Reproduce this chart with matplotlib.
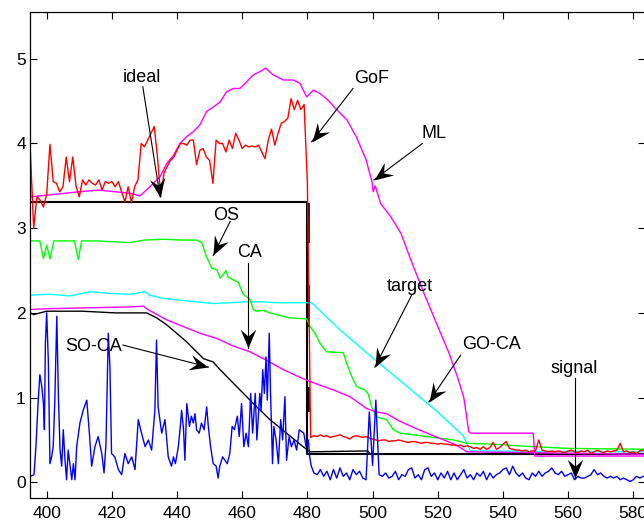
import matplotlib
matplotlib.use('Agg')
import matplotlib.pyplot as plt
from matplotlib.path import Path
import numpy as np

plt.rcParams['font.family'] = ['Liberation Sans', 'DejaVu Sans']

# ---------------- data ----------------
# GoF detector output (red), one sample per unit starting at 395
gof_pre = [3.90, 3.00, 3.37, 3.33, 3.25, 3.40, 3.99, 3.55, 3.53, 3.43,
           3.49, 3.84, 3.55, 3.84, 3.50, 3.37, 3.57, 3.51, 3.57, 3.53,
           3.51, 3.57, 3.45, 3.55, 3.53, 3.55, 3.49, 3.55, 3.43, 3.31,
           3.49, 3.30, 3.49, 3.57, 4.00, 3.96, 4.04, 4.12, 4.20, 3.84,
           3.37, 3.65, 3.73, 3.80, 3.84, 3.92, 4.00, 4.00, 3.98, 4.04,
           4.04, 3.75, 3.92, 3.94, 3.84, 3.80, 3.53, 4.04, 4.00, 4.00,
           3.90, 4.04, 3.94, 4.12, 4.04, 3.94, 3.98, 3.96, 3.97, 3.96,
           3.98, 3.90, 3.82, 4.04, 4.17, 3.98, 4.12, 4.24, 4.26, 4.30,
           4.53, 4.40, 4.51, 4.40, 4.46, 3.53]
gof_post = [0.53, 0.55, 0.54, 0.56, 0.54, 0.55, 0.53, 0.54, 0.55, 0.56,
            0.54, 0.53, 0.51, 0.54, 0.55, 0.54, 0.53, 0.54, 0.52, 0.51,
            0.50, 0.49, 0.50, 0.50, 0.48, 0.49, 0.49, 0.50, 0.49, 0.48,
            0.47, 0.48, 0.48, 0.47, 0.46, 0.47, 0.47, 0.46, 0.46, 0.45,
            0.46, 0.45, 0.45, 0.44, 0.44, 0.43, 0.44, 0.42, 0.43, 0.42,
            0.40, 0.41, 0.39, 0.42, 0.39, 0.41, 0.47, 0.39, 0.41, 0.45,
            0.48, 0.40, 0.39, 0.38, 0.38, 0.37, 0.38, 0.36, 0.37, 0.37,
            0.50, 0.38, 0.37, 0.36, 0.37, 0.36, 0.37, 0.36, 0.35, 0.37,
            0.38, 0.36, 0.35, 0.37, 0.36, 0.38, 0.34, 0.36, 0.38, 0.36,
            0.35, 0.37, 0.36, 0.37, 0.38, 0.46, 0.36, 0.37, 0.35, 0.36,
            0.34, 0.37, 0.38]
gof_start = 395

# signal (blue)
signal_x_a = [395.0, 396.1, 396.7, 397.4, 397.9, 398.5, 399.0, 399.3, 399.6, 400.0,
              400.5, 401.0, 401.5, 402.0, 402.5, 403.1, 403.6, 404.1, 404.6, 405.1,
              405.6, 406.1, 406.6, 407.2, 407.7, 408.2, 408.7, 409.2, 410.2, 411.2,
              412.3, 413.1, 413.8, 414.8, 415.8, 416.9, 417.6, 418.2, 418.9, 419.4,
              419.9, 420.9, 422.0, 423.0, 424.0, 425.0, 426.1, 427.1, 428.1, 429.1,
              430.2, 431.2, 432.2, 433.2, 433.7, 434.2, 435.3, 436.3, 437.3, 438.3,
              438.9, 439.5, 440.4, 441.0, 441.4, 442.0, 442.4, 443.0, 443.8, 444.4,
              445.0, 445.5, 446.0, 446.8, 447.5, 448.3, 449.1, 449.6, 450.3, 451.1,
              452.0, 452.6, 453.1, 454.0, 454.7, 455.4, 456.2, 456.9, 457.6, 458.5,
              459.1, 459.8, 460.5, 461.2, 461.9, 462.6, 463.2, 464.0, 464.5, 465.4,
              465.8, 466.3, 466.8, 467.3, 467.7, 468.3, 468.7, 469.3, 469.7, 470.4,
              471.1, 471.8, 472.4, 473.1, 473.6, 474.4, 475.1, 475.9, 476.7, 477.5,
              478.2, 478.9, 479.6, 480.3, 480.7, 481.2]
signal_y_a = [0.07, 0.09, 0.42, 0.97, 1.27, 1.13, 0.93, 0.62, 1.64, 2.00,
              1.44, 0.22, 0.30, 0.42, 0.97, 1.96, 1.01, 0.38, 0.19, 0.62,
              0.27, 0.03, 0.38, 0.19, 0.03, 0.22, 0.03, 0.42, 0.70, 0.85,
              0.97, 0.58, 0.19, 0.42, 0.54, 0.34, 0.11, 0.46, 1.76, 1.37,
              0.34, 0.30, 0.15, 0.09, 0.34, 0.22, 0.30, 0.15, 0.74, 0.58,
              0.42, 0.50, 0.38, 0.85, 1.68, 0.89, 0.58, 0.74, 0.30, 0.19,
              0.30, 0.22, 0.42, 0.66, 0.85, 0.62, 0.26, 0.93, 0.66, 0.78,
              0.70, 0.81, 0.62, 0.58, 0.70, 0.62, 0.89, 0.66, 0.42, 0.22,
              0.19, 0.05, 0.19, 0.30, 0.26, 0.22, 0.34, 0.66, 0.62, 0.78,
              0.54, 0.93, 0.42, 0.58, 0.42, 1.05, 0.58, 1.05, 0.50, 1.05,
              0.85, 1.33, 1.05, 1.48, 0.97, 1.76, 1.05, 0.22, 0.66, 0.50,
              0.22, 0.74, 0.50, 1.01, 0.26, 0.54, 0.42, 0.50, 0.38, 0.62,
              0.60, 0.58, 0.42, 0.50, 0.30, 0.19]
signal_y_b = [0.11, 0.09, 0.15, 0.07, 0.13, 0.03, 0.15, 0.05, 0.17, 0.07,
              0.11, 0.03, 0.15, 0.09, 0.13, 0.05, 0.03, 0.83, 0.20, 0.97,
              0.09, 0.07, 0.11, 0.05, 0.07, 0.13, 0.03, 0.09, 0.07, 0.15,
              0.17, 0.05, 0.09, 0.03, 0.15, 0.17, 0.07, 0.11, 0.03, 0.11,
              0.05, 0.13, 0.03, 0.11, 0.03, 0.09, 0.15, 0.05, 0.09, 0.03,
              0.11, 0.07, 0.13, 0.03, 0.11, 0.05, 0.09, 0.11, 0.15, 0.17,
              0.09, 0.19, 0.11, 0.07, 0.11, 0.05, 0.03, 0.11, 0.07, 0.13,
              0.07, 0.11, 0.13, 0.17, 0.11, 0.09, 0.13, 0.07, 0.09, 0.11,
              0.03, 0.07, 0.05, 0.05, 0.07, 0.09, 0.15, 0.09, 0.11, 0.07,
              0.05, 0.07, 0.05, 0.07, 0.03, 0.05, 0.03, 0.01, 0.03, 0.07,
              0.05, 0.07]
signal_b_start = 482

# ML (magenta, upper)
ml_x = [395, 400, 405, 410, 416, 421, 426, 428.6, 431.7, 434.8, 436.8, 438.9, 440.9,
        442.9, 445, 447, 449.1, 451.1, 453.2, 455.2, 457.3, 459.3, 461.4, 463.4,
        465.5, 467.2, 469.5, 472.6, 475.7, 477.7, 479.8, 481.8, 483.9, 486.4,
        488.2, 492.1, 495, 498, 499.8, 500.2, 500.8, 502.5, 505.5, 508.7, 511.7,
        515.8, 519.8, 523.3, 526, 528, 529.5, 530.2, 549.3, 549.8, 583.6]
ml_y = [3.37, 3.39, 3.41, 3.43, 3.45, 3.43, 3.41, 3.38, 3.49, 3.61, 3.76, 3.86, 4.00,
        4.08, 4.14, 4.22, 4.38, 4.43, 4.49, 4.61, 4.65, 4.65, 4.73, 4.81,
        4.85, 4.89, 4.81, 4.75, 4.75, 4.71, 4.55, 4.63, 4.59, 4.51,
        4.43, 4.28, 4.08, 3.81, 3.55, 3.43, 3.50, 3.29, 3.14, 2.94, 2.63,
        2.23, 1.86, 1.54, 1.25, 1.00, 0.60, 0.58, 0.58, 0.31, 0.31]

# OS (green)
os_x = [395, 397.9, 399, 400, 401, 402.2, 408.5, 409.7, 410.7, 415.3, 420, 425.5, 430,
        435.8, 441, 446, 447.6, 449.1, 450.6, 452.2, 453.2, 454.2, 455.0, 455.7, 456.7,
        458.8, 460.3, 462.4, 463.4, 464.4, 466.4, 468.5, 474.6, 479.8, 480.8, 482.3,
        483.9, 485.9, 491, 492, 493.6, 495.1, 497.7, 498.7, 499.7, 501.3, 504.3,
        506.4, 508.4, 512.5, 516.6, 520.7, 524.8, 528.9, 537, 545, 560, 583.6]
os_y = [2.85, 2.85, 2.64, 2.80, 2.64, 2.85, 2.85, 2.63, 2.85, 2.85, 2.84, 2.83, 2.86,
        2.87, 2.86, 2.86, 2.83, 2.66, 2.53, 2.51, 2.41, 2.45, 2.50, 2.42, 2.40,
        2.36, 2.22, 2.16, 2.04, 2.02, 2.03, 2.00, 1.94, 1.93, 1.84, 1.76,
        1.64, 1.54, 1.53, 1.41, 1.25, 1.13, 1.09, 1.04, 0.89, 0.77, 0.74,
        0.62, 0.58, 0.56, 0.54, 0.52, 0.50, 0.46, 0.45, 0.43, 0.40, 0.39]

# target (cyan)
target_x = [395, 401, 407.2, 413.3, 419.4, 425.6, 430.2, 431.5, 435.8, 441, 446, 451,
            456, 461, 466, 471, 476, 481.3, 490, 500, 510, 520, 527.8, 530, 583.6]
target_y = [2.21, 2.22, 2.20, 2.25, 2.23, 2.22, 2.25, 2.21, 2.17, 2.15, 2.13, 2.11,
            2.12, 2.13, 2.13, 2.12, 2.12, 2.12, 1.80, 1.47, 1.15, 0.83, 0.55, 0.37, 0.36]

# CA (magenta, lower)
ca_x = [395, 401, 413, 425, 429.7, 431, 436.7, 441.8, 447, 452.1, 457.2, 462.4, 467.5,
        472.6, 477.7, 480.8, 488, 493.1, 498.2, 501.3, 504.3, 508.4, 513, 518.6,
        525.7, 528.9, 583.6]
ca_y = [2.04, 2.05, 2.06, 2.07, 2.08, 2.04, 1.92, 1.84, 1.76, 1.70, 1.61, 1.54, 1.44,
        1.33, 1.24, 1.19, 1.09, 1.01, 0.87, 0.83, 0.81, 0.72, 0.64, 0.55,
        0.44, 0.36, 0.33]

# SO-CA (black)
soca_x = [395, 396, 400, 411, 421, 430.7, 433.8, 436.8, 442.9, 448.1, 451.1, 453.2,
          458.3, 463.4, 468.5, 473.6, 478.7, 480.8, 498.5, 499.5, 583.6]
soca_y = [2.00, 1.98, 2.02, 2.02, 2.00, 2.00, 1.94, 1.86, 1.66, 1.46, 1.42, 1.33,
          1.13, 0.93, 0.74, 0.58, 0.42, 0.36, 0.37, 0.33, 0.33]

# ideal (black)
ideal_x = [395, 480, 480, 583.6]
ideal_y = [3.31, 3.31, 0.33, 0.33]
# heavier pieces seen on the ideal step at 480 (y from, y to)
ideal_heavy_x = 480.1
ideal_heavy_y = [(3.30, 2.82), (2.33, 1.83), (1.12, 0.83)]

# annotations: label, text position (centre x, baseline y), arrow tail, arrow tip
annotations = [
    ("ideal",  (429.1, 4.73), (429.5, 4.67), (434.8, 3.37)),
    ("GoF",    (499.7, 4.71), (494.0, 4.65), (481.3, 4.02)),
    ("ML",     (519.0, 4.07), (515.3, 4.00), (500.4, 3.57)),
    ("OS",     (455.2, 3.10), (456.3, 3.08), (451.1, 2.68)),
    ("CA",     (462.2, 2.66), (461.8, 2.59), (461.8, 1.58)),
    ("SO-CA",  (414.5, 1.55), (423.4, 1.62), (449.6, 1.36)),
    ("target", (511.5, 2.26), (512.0, 2.21), (500.7, 1.36)),
    ("GO-CA",  (536.6, 1.57), (527.0, 1.50), (517.3, 0.95)),
    ("signal", (561.8, 1.29), (562.1, 1.23), (562.1, 0.05)),
]

# ---------------- plot ----------------
fig = plt.figure(figsize=(6.44, 5.23), dpi=100)
ax = fig.add_axes([30 / 644, 25.3 / 523, 615 / 644, 485.4 / 523])
ax.set_xlim(394.88, 583.6)
ax.set_ylim(-0.182, 5.549)

gof_y = gof_pre + gof_post
gof_x = np.arange(gof_start, gof_start + len(gof_y))
signal_x = list(signal_x_a) + list(np.arange(signal_b_start, signal_b_start + len(signal_y_b)))
signal_y = list(signal_y_a) + list(signal_y_b)

lw = 1.0
ax.plot(ideal_x, ideal_y, color='black', lw=1.5)
for y0, y1 in ideal_heavy_y:
    ax.plot([ideal_heavy_x, ideal_heavy_x], [y0, y1], color='black', lw=2.6,
            solid_capstyle='butt')
ax.plot(soca_x, soca_y, color='black', lw=lw)
ax.plot(target_x, target_y, color='cyan', lw=lw)
ax.plot(os_x, os_y, color='#00ff00', lw=lw)
ax.plot(ca_x, ca_y, color='magenta', lw=lw)
ax.plot(ml_x, ml_y, color='magenta', lw=lw)
ax.plot(gof_x, gof_y, color='red', lw=lw)
ax.plot(signal_x, signal_y, color='blue', lw=lw)

# notched (MATLAB-like) arrow heads
head_len, head_half, notch = 13.5, 5.6, 8.5   # points
base = np.array([[0, 0], [-head_len, head_half], [-notch, 0], [-head_len, -head_half], [0, 0]])
codes = [Path.MOVETO, Path.LINETO, Path.LINETO, Path.LINETO, Path.CLOSEPOLY]

for label, txy, tail, tip in annotations:
    ax.text(txy[0], txy[1], label, ha='center', va='baseline', fontsize=13, color='black')
    ax.plot([tail[0], tip[0]], [tail[1], tip[1]], color='black', lw=0.8)
    p0 = ax.transData.transform(tail)
    p1 = ax.transData.transform(tip)
    ang = np.arctan2(p1[1] - p0[1], p1[0] - p0[0])
    rot = np.array([[np.cos(ang), -np.sin(ang)], [np.sin(ang), np.cos(ang)]])
    verts = base @ rot.T
    ms = 2 * np.max(np.abs(verts))
    ax.plot([tip[0]], [tip[1]], marker=Path(verts, codes), markersize=ms,
            color='black', markeredgewidth=0, linestyle='none', zorder=5)

ax.set_xticks(list(range(400, 581, 20)))
ax.set_yticks(list(range(0, 6)))
ax.tick_params(direction='in', length=5, width=0.8, top=True, right=True,
               labelsize=12.5, colors='black')
ax.tick_params(axis='x', pad=6)
ax.tick_params(axis='y', pad=3)
for s in ax.spines.values():
    s.set_linewidth(0.9)

fig.savefig('out.png', dpi=100)
